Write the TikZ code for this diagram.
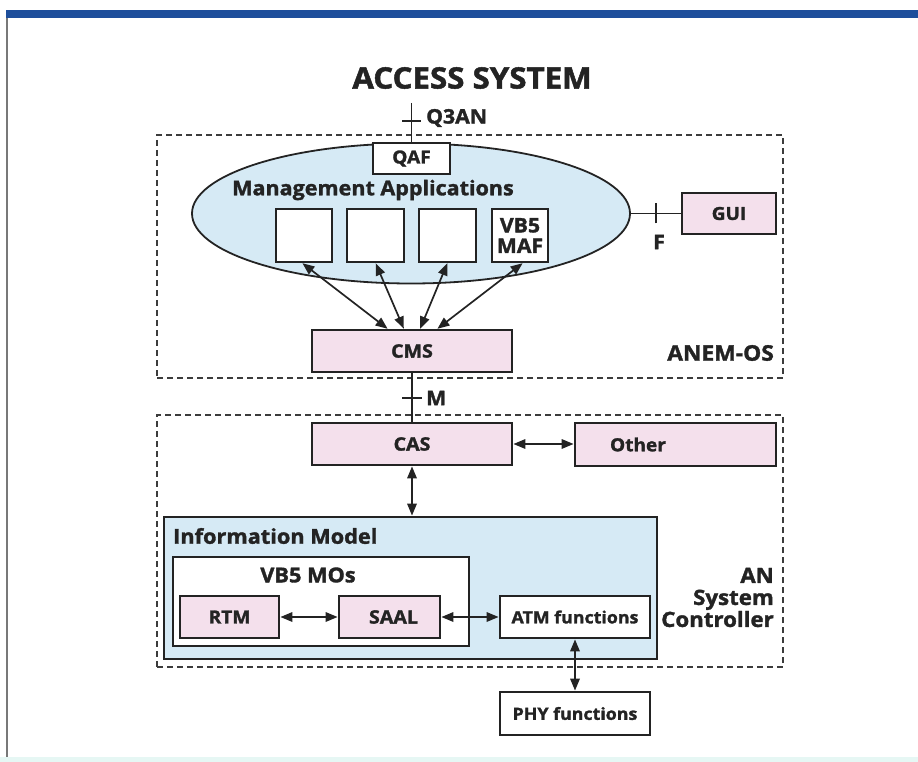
\documentclass[tikz,border=0pt]{standalone}
\usepackage{fontspec}
\setmainfont{Open Sans}[FakeStretch=1.06, BoldFeatures={FakeBold=1.6}]
\usetikzlibrary{arrows.meta,shapes.geometric}
\definecolor{pinkf}{RGB}{244,224,236}
\definecolor{bluef}{RGB}{214,234,245}
\definecolor{barblue}{RGB}{30,78,155}
\definecolor{ink}{RGB}{35,35,35}
\definecolor{dashc}{RGB}{60,60,60}
\definecolor{framec}{RGB}{120,120,120}
\definecolor{bottomc}{RGB}{230,247,244}
\tikzset{
  fs/.style={font=\fontsize{#1}{#1}\selectfont\bfseries},
  bx/.style={draw=ink, line width=1.8pt, inner sep=0pt, fill=white, text=ink},
  pinkbox/.style={bx, fill=pinkf},
  dashbox/.style={draw=dashc, line width=1.3pt, dash pattern=on 6pt off 4pt, inner sep=0pt},
  arr/.style={{Triangle[length=12pt,width=9.5pt]}-{Triangle[length=12pt,width=9.5pt]}, line width=1.7pt, draw=ink, shorten <=0.5pt, shorten >=0.5pt},
  ln/.style={line width=1.6pt, draw=ink},
  lbl/.style={text=ink, inner sep=0pt},
}
\begin{document}
\begin{tikzpicture}[x=1pt,y=-1pt]
\useasboundingbox (0,0) rectangle (918,762);
% page frame
\fill[barblue] (6,10) rectangle (918,18);
\fill[bottomc] (0,757) rectangle (918,762);
\draw[framec, line width=1.2pt] (7,18) -- (7,757);

% title
\node[lbl, fs=29.5] (title) at (472,78) {ACCESS SYSTEM};

% dashed areas
\node[dashbox, minimum width=626pt, minimum height=243pt] (anem) at (470,256.5) {};
\node[dashbox, minimum width=626pt, minimum height=252pt] (anc) at (470,541) {};

% management applications ellipse
\node[ellipse, draw=ink, line width=1.8pt, fill=bluef, minimum width=438pt, minimum height=140pt, inner sep=0pt] (ma) at (411,213.5) {};
\node[lbl, fs=20.3] (matxt) at (373,190) {Management Applications};
\node[bx, minimum width=77pt, minimum height=31pt, fs=18] (qaf) at (411.5,158.5) {QAF};
\node[bx, minimum width=56pt, minimum height=53pt] (b1) at (304,235.5) {};
\node[bx, minimum width=57pt, minimum height=53pt] (b2) at (375.5,235.5) {};
\node[bx, minimum width=57pt, minimum height=53pt] (b3) at (447.5,235.5) {};
\node[bx, minimum width=56pt, minimum height=53pt, align=center, fs=20] (b4) at (520,235.5) {VB5\\[0.5pt]MAF};

% Q3AN interface
\coordinate (q3top) at (411.5,103);
\coordinate (q3t) at (411.5,121);
\draw[ln] (q3top) -- (qaf.north);
\draw[ln] ([xshift=-9.5pt]q3t) -- ([xshift=9.5pt]q3t);
\node[lbl, fs=20, anchor=west] (q3an) at (426,118) {Q3AN};

% GUI
\node[pinkbox, minimum width=94pt, minimum height=41pt, fs=18] (gui) at (729,213.5) {GUI};
\draw[ln] (ma.east) -- (gui.west);
\coordinate (ft) at (656,213.5);
\draw[ln] ([yshift=-10pt]ft) -- ([yshift=10pt]ft);
\node[lbl, fs=20] (f) at (659,242) {F};

% CMS
\node[pinkbox, minimum width=200pt, minimum height=42pt, fs=18.5] (cms) at (412,351) {CMS};
\draw[arr] ([xshift=-2pt]b1.south) -- ([xshift=-24pt]cms.north);
\draw[arr] (b2.south) -- ([xshift=-8pt]cms.north);
\draw[arr] (b3.south) -- ([xshift=8pt]cms.north);
\draw[arr] ([xshift=3pt]b4.south) -- ([xshift=25pt]cms.north);
\node[lbl, fs=21.5, anchor=east] (anemlbl) at (774,353) {ANEM-OS};

% M interface
\node[pinkbox, minimum width=200pt, minimum height=42pt, fs=18.5] (cas) at (412,444) {CAS};
\draw[ln] (cms.south) -- (cas.north);
\coordinate (mt) at (412,398);
\draw[ln] ([xshift=-10pt]mt) -- ([xshift=10pt]mt);
\node[lbl, fs=20, anchor=west] (mlbl) at (426,398) {M};

% Other
\node[pinkbox, minimum width=201pt, minimum height=43pt] (other) at (675.5,444.5) {};
\node[lbl, fs=18] (othertxt) at (638,444.5) {Other};
\draw[arr] (cas.east) -- (cas.east -| other.west);

% Information model
\node[bx, fill=bluef, minimum width=493pt, minimum height=142pt] (im) at (410.5,588) {};
\node[lbl, fs=20.5, anchor=west] (imtxt) at (173,536) {Information Model};
\draw[arr] (cas.south) -- (cas.south |- im.north);
\node[bx, minimum width=296pt, minimum height=89pt] (vb5) at (321,601.5) {};
\node[lbl, fs=20.5] (vb5txt) at (308,575) {VB5 MOs};
\node[pinkbox, minimum width=99pt, minimum height=42pt, fs=18] (rtm) at (229.5,617) {RTM};
\node[pinkbox, minimum width=101pt, minimum height=42pt] (saal) at (389.5,617) {};
\node[lbl, fs=18.5] (saaltxt) at (393.5,617) {SAAL};
\node[bx, minimum width=150pt, minimum height=42pt, fs=16.8] (atm) at (575,617) {ATM functions};
\draw[arr] (rtm.east) -- (saal.west);
\draw[arr] (saal.east) -- (atm.west);
\node[lbl, fs=21, anchor=east, align=right] (anclbl) at (774,597.5) {AN\\[1pt]System\\[1pt]Controller};

% PHY
\node[bx, minimum width=150pt, minimum height=43pt, fs=16.8] (phy) at (575,713.5) {PHY functions};
\draw[arr] (atm.south) -- (phy.north);
\end{tikzpicture}
\end{document}
